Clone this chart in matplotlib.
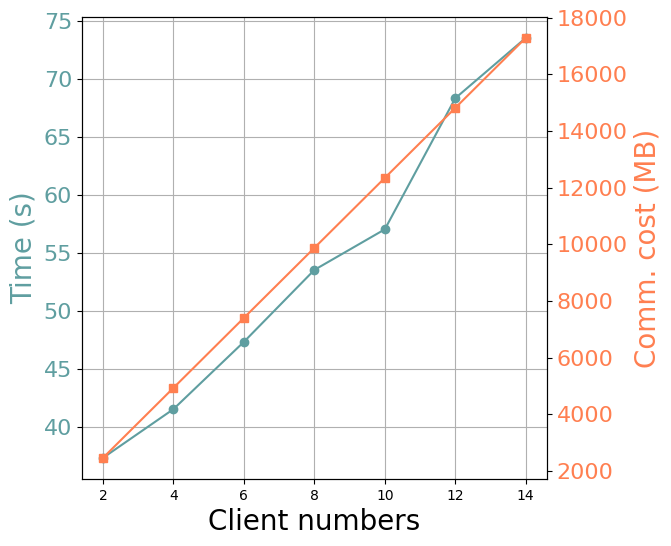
import matplotlib
matplotlib.use('Agg')
import matplotlib.pyplot as plt

# values
clients = [2, 4, 6, 8, 10, 12, 14]
time_s = [37.3, 41.5, 47.3, 53.5, 57.0, 68.3, 73.5]
comm_mb = [2470, 4940, 7410, 9880, 12350, 14820, 17290]

time_color = 'cadetblue'
comm_color = 'coral'

fig, ax1 = plt.subplots(figsize=(6.71, 5.46), dpi=100)
fig.subplots_adjust(left=0.122, right=0.815, top=0.969, bottom=0.123)

ax1.plot(clients, time_s, color=time_color, marker='o')
ax1.set_xlabel('Client numbers', fontsize=20)
ax1.set_ylabel('Time (s)', color=time_color, fontsize=20)
ax1.tick_params(axis='y', labelcolor=time_color, labelsize=16)
ax1.set_xticks(clients)
ax1.grid(True)

ax2 = ax1.twinx()
ax2.plot(clients, comm_mb, color=comm_color, marker='s')
ax2.set_ylabel('Comm. cost (MB)', color=comm_color, fontsize=20)
ax2.tick_params(axis='y', labelcolor=comm_color, labelsize=16)
ax2.set_yticks([2000, 4000, 6000, 8000, 10000, 12000, 14000, 16000, 18000])

plt.savefig('out.png')
